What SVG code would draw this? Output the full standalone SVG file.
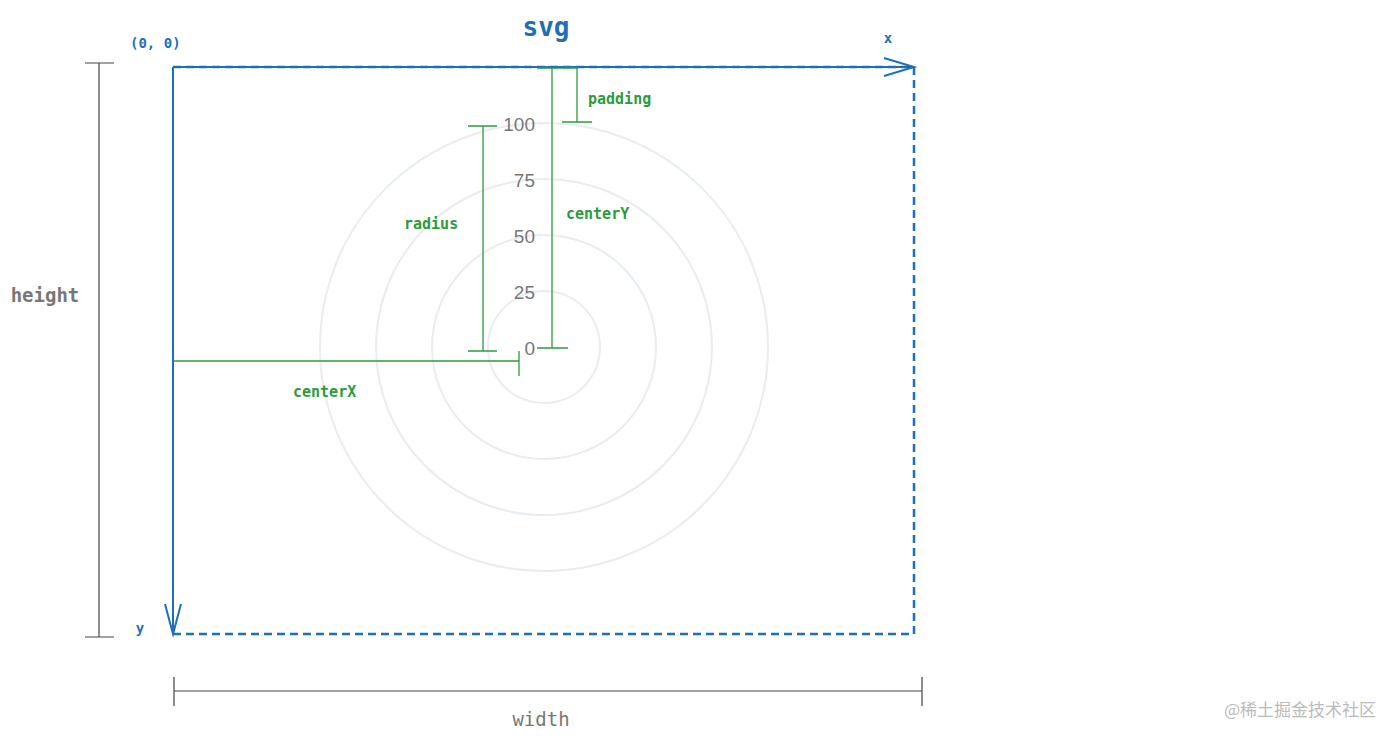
<svg xmlns="http://www.w3.org/2000/svg" width="1397" height="741" viewBox="0 0 1397 741">
<style>
.mono{font-family:"DejaVu Sans Mono","Liberation Mono",monospace}
.blue{fill:#1f6fb8;font-weight:bold}
.green{fill:#2e9a3e;font-weight:bold;font-size:15px}
.gl{stroke:#2e9a3e;stroke-width:1.3;fill:none}
.dark{stroke:#444;stroke-width:1.2;fill:none}
.ring{stroke:#e8edf2;stroke-width:2;fill:none}
.num{font-family:"Liberation Sans",Arial,sans-serif;font-size:19px;fill:#777;text-anchor:end}
</style>
<rect width="1397" height="741" fill="#fff"/>
<g id="rings">
<circle class="ring" cx="544" cy="347" r="56"/>
<circle class="ring" cx="544" cy="347" r="112"/>
<circle class="ring" cx="544" cy="347" r="168"/>
<circle class="ring" cx="544" cy="347" r="224"/>
<text class="num" x="535" y="131">100</text>
<text class="num" x="535" y="187">75</text>
<text class="num" x="535" y="243">50</text>
<text class="num" x="535" y="299">25</text>
<text class="num" x="535" y="355">0</text>
</g>
<g id="svg-box">
<path d="M173 67 H914 V634 H173" fill="none" stroke="#1f6fb8" stroke-width="2.5" stroke-dasharray="8 5"/>
<text class="mono blue" x="546" y="36" font-size="26" text-anchor="middle">svg</text>
<text class="mono blue" x="130" y="48" font-size="14">(0, 0)</text>
<text class="mono blue" x="888" y="43" font-size="14" text-anchor="middle">x</text>
<text class="mono blue" x="140" y="633" font-size="14" text-anchor="middle">y</text>
</g>
<g id="connectors">
<line x1="173" y1="67" x2="914" y2="67" stroke="#1f6fb8" stroke-width="2"/>
<path d="M884 58 L914 67 L884 76" fill="none" stroke="#1f6fb8" stroke-width="2"/>
<line x1="173" y1="67" x2="173" y2="634" stroke="#1f6fb8" stroke-width="2"/>
<path d="M165 604 L173 634 L181 604" fill="none" stroke="#1f6fb8" stroke-width="2"/>
<path class="dark" d="M99 63 V637 M85 63 H114 M85 637 H114"/>
<path class="dark" d="M174 691 H922 M174 677 V706 M922 677 V706"/>
<path class="gl" d="M552 68 V348 M537 68 H578 M537 348 H568"/>
<path class="gl" d="M577 68 V122 M562 122 H592"/>
<path class="gl" d="M483 126 V351 M468 126 H497 M468 351 H497"/>
<path class="gl" d="M173 361 H519 M519 351 V376"/>
</g>
<g id="labels">
<text class="mono green" x="588" y="104">padding</text>
<text class="mono green" x="566" y="219">centerY</text>
<text class="mono green" x="404" y="229">radius</text>
<text class="mono green" x="293" y="397">centerX</text>
<text class="mono" x="45" y="302" font-size="19" fill="#777" font-weight="bold" text-anchor="middle">height</text>
<text class="mono" x="541" y="726" font-size="19" fill="#777" text-anchor="middle">width</text>
<text x="1376" y="716" font-family="'Noto Sans CJK SC',sans-serif" font-size="17" fill="#bbb" text-anchor="end">@稀土掘金技术社区</text>
</g>
</svg>
